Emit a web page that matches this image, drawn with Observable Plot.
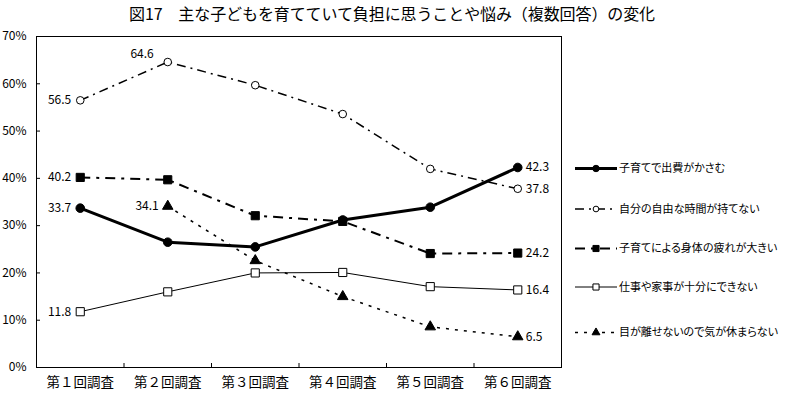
<!DOCTYPE html>
<html>
<head>
<meta charset="utf-8">
<script src="https://cdn.jsdelivr.net/npm/d3@7"></script>
<script src="https://cdn.jsdelivr.net/npm/@observablehq/plot@0.6"></script>
<style>
  html, body { margin: 0; padding: 0; background: #fff; }
  #wrap { position: relative; width: 788px; height: 397px; overflow: hidden; font-family: "Noto Sans CJK JP", sans-serif; }
  #title { position: absolute; left: 0; top: 0; width: 788px; height: 26px; color: #000; }
  #title span { position: absolute; left: 129px; top: 0; font-size: 16px; line-height: 26px; white-space: nowrap; }
  #plot { position: absolute; left: 0; top: 26px; }
  #legend { position: absolute; left: 0; top: 0; }
</style>
</head>
<body>
<div id="wrap">
  <div id="title"><span id="titleText">図17　主な子どもを育てていて負担に思うことや悩み（複数回答）の変化</span></div>
  <div id="plot"></div>
  <svg id="legend" width="788" height="397"></svg>
</div>
<script>
// ---- data ----
const surveys = ["第１回調査", "第２回調査", "第３回調査", "第４回調査", "第５回調査", "第６回調査"];
const seriesNames = [
  "子育てで出費がかさむ",
  "自分の自由な時間が持てない",
  "子育てによる身体の疲れが大きい",
  "仕事や家事が十分にできない",
  "目が離せないので気が休まらない"
];
const costs      = [33.7, 26.5, 25.5, 31.2, 33.9, 42.3];
const freeTime   = [56.5, 64.6, 59.7, 53.6, 42.0, 37.8];
const fatigue    = [40.2, 39.7, 32.1, 30.9, 24.1, 24.2];
const workHouse  = [11.8, 16.0, 20.0, 20.1, 17.1, 16.4];
const cantRelax  = [null, 34.1, 22.6, 15.0, 8.6, 6.5];
const yTicks = [0, 10, 20, 30, 40, 50, 60, 70];

// ---- styles ----
const seriesValues = [costs, freeTime, fatigue, workHouse, cantRelax];
const styles = [
  {sw: 3,   dash: null,        symbol: "circle",   fill: "black", r: 4.3},
  {sw: 1.5, dash: "9,5,2,5",   symbol: "circle",   fill: "white", r: 3.8},
  {sw: 2,   dash: "10,6,3,6",  symbol: "square",   fill: "black", r: 4.6},
  {sw: 1,   dash: null,        symbol: "square",   fill: "white", r: 4.6},
  {sw: 1.5, dash: "3,6",       symbol: "triangle", fill: "black", r: 3.9}
];
// extra labelled points (series index, point index) placed above-left
const extraLabels = [{s: 1, i: 1}];

const FONT = "'Noto Sans CJK JP', sans-serif";

// fit title width to the reference span
(function fitTitle() {
  const el = document.getElementById("titleText");
  const target = 526;
  const n = el.textContent.length;
  const w = el.getBoundingClientRect().width;
  el.style.letterSpacing = ((target - w) / n) + "px";
})();

const rows = seriesValues.map((vals, s) =>
  vals.map((v, i) => ({s, i: i + 1, v})).filter(d => d.v != null));

const firstLabels = rows.map(r => r[0]);
const lastLabels = rows.map(r => r[r.length - 1]);
const topLabels = extraLabels.map(e => rows[e.s].find(d => d.i === e.i + 1));

const W = 788, H = 371, mL = 36, mR = 227, mT = 10, mB = 30;
const innerW = W - mL - mR, innerH = H - mT - mB;
const boundaries = d3.range(1, surveys.length).map(i => i + 0.5);

const marks = [
  Plot.frame({stroke: "black", strokeWidth: 1}),
  Plot.tickY(yTicks, {y: d => d, stroke: "black", insetRight: innerW - 4}),
  Plot.tickX(boundaries, {x: d => d, stroke: "black", insetTop: innerH - 4}),
  Plot.axisY({ticks: yTicks, tickFormat: d => d + "%", tickSize: 0, tickPadding: 10, fontSize: 12, label: null}),
  Plot.axisX({ticks: d3.range(1, surveys.length + 1), tickFormat: i => surveys[i - 1], tickSize: 0, tickPadding: 10, fontSize: 13.5, label: null})
];
rows.forEach((r, s) => {
  const st = styles[s];
  marks.push(Plot.line(r, {x: "i", y: "v", stroke: "black", strokeWidth: st.sw, strokeDasharray: st.dash, strokeLinecap: "butt"}));
});
rows.forEach((r, s) => {
  const st = styles[s];
  marks.push(Plot.dot(r, {x: "i", y: "v", symbol: st.symbol, r: st.r, fill: st.fill, stroke: "black", strokeWidth: 1}));
});
marks.push(
  Plot.text(firstLabels, {x: "i", y: "v", text: d => d.v.toFixed(1), textAnchor: "end", dx: -9, fontSize: 12}),
  Plot.text(lastLabels, {x: "i", y: "v", text: d => d.v.toFixed(1), textAnchor: "start", dx: 8, fontSize: 12}),
  Plot.text(topLabels, {x: "i", y: "v", text: d => d.v.toFixed(1), textAnchor: "end", dx: -14, dy: -8, fontSize: 12})
);

const chart = Plot.plot({
  width: W, height: H,
  marginLeft: mL, marginRight: mR, marginTop: mT, marginBottom: mB,
  x: {type: "linear", domain: [0.5, surveys.length + 0.5], label: null},
  y: {domain: [0, 70], label: null},
  style: {fontFamily: FONT, fontSize: "12px", color: "black", background: "white"},
  marks
});
document.getElementById("plot").appendChild(chart);

// ---- legend ----
const legendY = [168.5, 209, 248.5, 287, 332.5];
const lg = d3.select("#legend");
seriesNames.forEach((name, s) => {
  const st = styles[s];
  const g = lg.append("g").attr("transform", `translate(0,${legendY[s]})`);
  g.append("line").attr("x1", 575).attr("x2", 617).attr("y1", 0).attr("y2", 0)
    .attr("stroke", "black").attr("stroke-width", st.sw)
    .attr("stroke-dasharray", st.dash);
  const sym = d3.symbol().type({circle: d3.symbolCircle, square: d3.symbolSquare, triangle: d3.symbolTriangle}[st.symbol])
    .size(Math.PI * (st.r * 0.75) ** 2);
  g.append("path").attr("d", sym()).attr("transform", "translate(596,0)")
    .attr("fill", st.fill).attr("stroke", "black").attr("stroke-width", 1);
  g.append("text").attr("x", 619).attr("y", 0).attr("dy", "0.35em")
    .attr("font-family", FONT).attr("font-size", 11).attr("fill", "black")
    .style("font-feature-settings", "'palt'")
    .text(name);
});
</script>
</body>
</html>
